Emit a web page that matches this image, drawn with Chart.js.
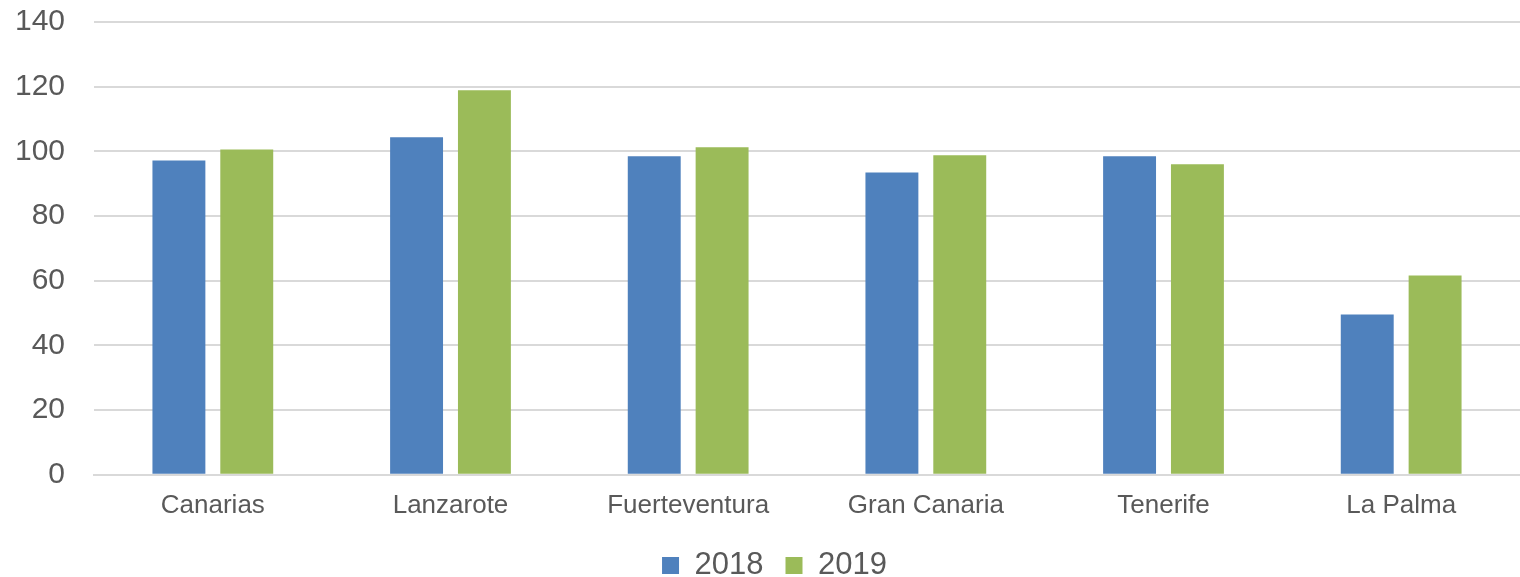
<!DOCTYPE html>
<html>
<head>
<meta charset="utf-8">
<script src="https://cdn.jsdelivr.net/npm/chart.js@4"></script>
<style>
  html, body { margin: 0; padding: 0; background: #fff; }
  #wrap { width: 1520px; height: 577px; }
</style>
</head>
<body>
<div id="wrap"><canvas id="chart" width="1520" height="577"></canvas></div>
<script>
const categories = ['Canarias', 'Lanzarote', 'Fuerteventura', 'Gran Canaria', 'Tenerife', 'La Palma'];
const values2018 = [97.2, 104.4, 98.5, 93.5, 98.5, 49.6];
const values2019 = [100.6, 118.9, 101.3, 98.8, 96.0, 61.6];

const textColor = '#595959';
const gridColor = '#d9d9d9';
const fontFamily = 'Liberation Sans, Arial, sans-serif';

// nudge the legend so it sits where the original has it
const legendShift = {
    id: 'legendShift',
    afterLayout(chart) {
        chart.legend.left += 11;
        chart.legend.right += 11;
    }
};

const ctx = document.getElementById('chart').getContext('2d');
new Chart(ctx, {
    type: 'bar',
    data: {
        labels: categories,
        datasets: [
            { label: '2018', data: values2018, backgroundColor: '#4f81bd' },
            { label: '2019', data: values2019, backgroundColor: '#9bbb59' }
        ]
    },
    options: {
        responsive: false,
        animation: false,
        layout: { padding: { top: 0, right: -7, bottom: -14, left: 0 } },
        datasets: {
            bar: { categoryPercentage: 0.571, barPercentage: 0.78 }
        },
        plugins: {
            legend: {
                position: 'bottom',
                labels: {
                    color: textColor,
                    font: { family: fontFamily, size: 31 },
                    boxWidth: 17,
                    boxHeight: 17,
                    padding: 22
                }
            },
            tooltip: { enabled: false }
        },
        scales: {
            x: {
                grid: { display: false },
                border: { color: gridColor, width: 2 },
                ticks: {
                    color: textColor,
                    font: { family: fontFamily, size: 26 },
                    padding: 7
                }
            },
            y: {
                min: 0,
                max: 140,
                afterFit: (scale) => {
                    scale.width = 94;
                    scale.paddingTop = 22;
                    scale.paddingBottom = 0;
                },
                border: { display: false },
                grid: { color: gridColor, lineWidth: 2, drawTicks: false },
                ticks: {
                    stepSize: 20,
                    color: textColor,
                    font: { family: fontFamily, size: 30 },
                    padding: 29
                }
            }
        }
    },
    plugins: [legendShift]
});
</script>
</body>
</html>
